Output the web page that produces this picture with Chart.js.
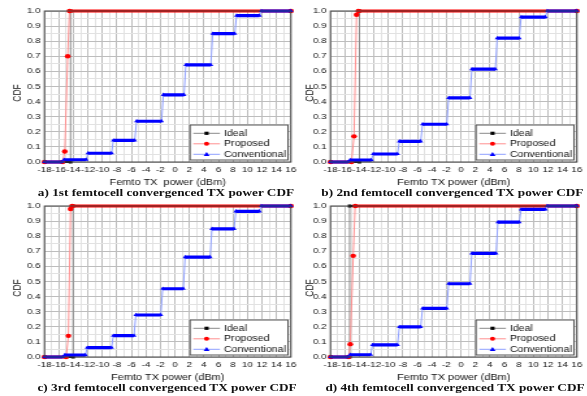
<!DOCTYPE html>
<html>
<head>
<meta charset="utf-8">
<script src="https://cdn.jsdelivr.net/npm/chart.js@4.4.1/dist/chart.umd.min.js"></script>
<style>
html, body { margin: 0; padding: 0; background: #fff; overflow: hidden; }
#page { position: absolute; left: 0; top: 0; width: 451.54px; height: 396px; transform: scaleX(1.3); transform-origin: 0 0; }
#page canvas { position: absolute; }
.cap { position: absolute; width: 220px; text-align: center; white-space: nowrap; font: bold 10.2px "Liberation Serif", serif; line-height: 12px; color: #111; }
</style>
</head>
<body>
<div id="page">
  <canvas id="p0" width="232" height="190" style="left:0px;top:0px"></canvas>
  <canvas id="p1" width="225" height="190" style="left:226px;top:0px"></canvas>
  <canvas id="p2" width="232" height="190" style="left:0px;top:195px"></canvas>
  <canvas id="p3" width="225" height="190" style="left:226px;top:195px"></canvas>
  <div class="cap" style="left:17.7px;top:187px">a) 1st femtocell convergenced TX power CDF</div>
  <div class="cap" style="left:238px;top:187px">b) 2nd femtocell convergenced TX power CDF</div>
  <div class="cap" style="left:18.5px;top:382px">c) 3rd femtocell convergenced TX power CDF</div>
  <div class="cap" style="left:240px;top:382px">d) 4th femtocell convergenced TX power CDF</div>
</div>
<script>
// series names and axis texts
const seriesNames = ['Ideal', 'Proposed', 'Conventional'];
const xTitles = ['Femto TX  power (dBm)', 'Femto TX power (dBm)', 'Femto TX power (dBm)', 'Femto TX power (dBm)'];
const yTitle = 'CDF';

// ideal: a single jump from 0 to 1
const idealX = [
  [-18, -14.4, -14.4, 16],
  [-18, -14.0, -14.0, 16],
  [-18, -14.05, -14.05, 16],
  [-18, -15.35, -15.35, 16]
];
const idealY = [0, 0, 1, 1];

// proposed
const proposedX = [
  [-18, -15.5, -15.2, -14.8, -14.55, 16],
  [-18, -15.1, -14.75, -14.4, -14.15, 16],
  [-18, -15.0, -14.7, -14.4, -14.2, 16],
  [-18, -15.5, -15.27, -14.86, -14.6, 16]
];
const proposedY = [
  [0, 0, 0.07, 0.70, 1, 1],
  [0, 0, 0.17, 0.975, 1, 1],
  [0, 0, 0.14, 0.98, 1, 1],
  [0, 0, 0.085, 0.67, 1, 1]
];

// conventional: staircase, each step has a start, an end and a level
const convStart = [
  [-18, -15.3, -12.0, -8.5, -5.3, -1.6, 1.5, 5.2, 8.5, 11.9],
  [-18, -15.3, -12.1, -8.5, -5.3, -1.7, 1.5, 5.0, 8.3, 11.9],
  [-18, -15.2, -12.1, -8.5, -5.4, -1.7, 1.4, 5.1, 8.4, 11.9],
  [-18, -15.3, -12.2, -8.5, -5.3, -1.7, 1.5, 5.1, 8.3, 11.9]
];
const convEnd = [
  [-15.55, -12.25, -8.75, -5.55, -1.85, 1.25, 4.95, 8.25, 11.65, 16],
  [-15.55, -12.35, -8.75, -5.55, -1.95, 1.25, 4.75, 8.05, 11.65, 16],
  [-15.45, -12.35, -8.75, -5.65, -1.95, 1.15, 4.85, 8.15, 11.65, 16],
  [-15.55, -12.45, -8.75, -5.55, -1.95, 1.25, 4.85, 8.05, 11.65, 16]
];
const convLevel = [
  [0, 0.015, 0.058, 0.143, 0.27, 0.445, 0.643, 0.85, 0.97, 1],
  [0, 0.013, 0.053, 0.137, 0.25, 0.425, 0.615, 0.82, 0.96, 1],
  [0, 0.013, 0.062, 0.141, 0.278, 0.452, 0.662, 0.849, 0.965, 1],
  [0, 0.015, 0.08, 0.199, 0.322, 0.485, 0.686, 0.893, 0.977, 1]
];

// layout of each panel (canvas local units)
const panels = [
  { id: 'p0', yAxisW: 34.2, padRight: 8.2, yTitleX: 14.1 },
  { id: 'p1', yAxisW: 28.2, padRight: 7.2, yTitleX: 12.2 },
  { id: 'p2', yAxisW: 34.2, padRight: 8.2, yTitleX: 14.1 },
  { id: 'p3', yAxisW: 28.2, padRight: 7.2, yTitleX: 12.2 }
];

const keyLooks = [
  { line: '#8a8a8a', mark: '#000', style: 'rect' },
  { line: '#ff8f8f', mark: '#ff0000', style: 'circle' },
  { line: '#8fa0ff', mark: '#0000ff', style: 'triangle' }
];

Chart.defaults.font.family = '"Liberation Sans", Arial, sans-serif';
Chart.defaults.color = '#111';

function pairs(xs, ys) {
  return xs.map((x, k) => ({ x: x, y: ys[k] }));
}

function stairs(i) {
  const pts = [];
  for (let k = 0; k < convLevel[i].length; k++) {
    pts.push({ x: convStart[i][k], y: convLevel[i][k] });
    pts.push({ x: convEnd[i][k], y: convLevel[i][k] });
  }
  return pts;
}

const flat = c => Math.abs(c.p0.parsed.y - c.p1.parsed.y) < 1e-9;

function keyMarker(ctx, style, x, y, color) {
  ctx.fillStyle = color;
  ctx.beginPath();
  if (style === 'rect') ctx.rect(x - 1.6, y - 1.6, 3.2, 3.2);
  else if (style === 'circle') ctx.arc(x, y, 2, 0, Math.PI * 2);
  else { ctx.moveTo(x, y - 2.4); ctx.lineTo(x + 2.3, y + 1.6); ctx.lineTo(x - 2.3, y + 1.6); ctx.closePath(); }
  ctx.fill();
}

const frameAndKey = {
  id: 'frameAndKey',
  afterDraw(chart, args, opts) {
    const ctx = chart.ctx, a = chart.chartArea;
    ctx.save();
    ctx.strokeStyle = '#444';
    ctx.lineWidth = 1;
    ctx.strokeRect(a.left, a.top, a.width, a.height);

    // y title
    ctx.save();
    ctx.translate(opts.yTitleX, (a.top + a.bottom) / 2 + 6.5);
    ctx.rotate(-Math.PI / 2);
    ctx.font = '8.5px "Liberation Sans", Arial, sans-serif';
    ctx.fillStyle = '#111';
    ctx.textAlign = 'center';
    ctx.textBaseline = 'middle';
    ctx.fillText(yTitle, 0, 0);
    ctx.restore();

    // key box
    const w = 75.3, h = 35;
    const x0 = a.right - 2.3 - w, y0 = a.bottom - 2 - h;
    ctx.fillStyle = '#fff';
    ctx.fillRect(x0, y0, w, h);
    ctx.strokeStyle = '#555';
    ctx.strokeRect(x0, y0, w, h);
    ctx.font = '8.2px "Liberation Sans", Arial, sans-serif';
    ctx.textBaseline = 'middle';
    ctx.textAlign = 'left';
    chart.data.datasets.forEach((ds, k) => {
      const y = y0 + 8.3 + k * 10.5;
      const look = keyLooks[k];
      ctx.strokeStyle = look.line;
      ctx.beginPath();
      ctx.moveTo(x0 + 2.5, y);
      ctx.lineTo(x0 + 23, y);
      ctx.stroke();
      keyMarker(ctx, look.style, x0 + 12.7, y, look.mark);
      ctx.fillStyle = '#111';
      ctx.fillText(ds.label, x0 + 26, y);
    });
    ctx.restore();
  }
};

panels.forEach((p, i) => {
  new Chart(document.getElementById(p.id), {
    type: 'line',
    data: {
      datasets: [
        {
          label: seriesNames[0],
          data: pairs(idealX[i], idealY),
          order: 3,
          borderColor: '#000',
          pointStyle: 'rect',
          pointRadius: 2,
          pointBackgroundColor: '#000',
          pointBorderWidth: 0,
          segment: {
            borderWidth: c => flat(c) ? 2 : 1,
            borderColor: c => flat(c) ? '#000' : '#8a8a8a'
          }
        },
        {
          label: seriesNames[1],
          data: pairs(proposedX[i], proposedY[i]),
          order: 2,
          borderColor: '#ff0000',
          pointStyle: 'circle',
          pointRadius: 2.2,
          pointBackgroundColor: '#ff0000',
          pointBorderWidth: 0,
          segment: {
            borderWidth: c => flat(c) ? 3 : 1,
            borderColor: c => flat(c) ? '#ff0000' : '#ff8f8f'
          }
        },
        {
          label: seriesNames[2],
          data: stairs(i),
          order: 1,
          borderColor: '#0000ff',
          pointStyle: 'triangle',
          pointRadius: 2.2,
          pointBackgroundColor: '#0000ff',
          pointBorderWidth: 0,
          segment: {
            borderWidth: c => flat(c) ? 3.2 : 1,
            borderColor: c => flat(c) ? '#0000ff' : '#8fa0ff'
          }
        }
      ]
    },
    options: {
      responsive: false,
      animation: false,
      clip: 4,
      layout: { padding: { left: 0, top: 11, right: p.padRight, bottom: 0 } },
      plugins: {
        legend: { display: false },
        tooltip: { enabled: false },
        frameAndKey: { yTitleX: p.yTitleX }
      },
      scales: {
        x: {
          type: 'linear',
          min: -18,
          max: 16,
          border: { display: false },
          grid: {
            drawTicks: false,
            color: c => (c.tick && Math.round(c.tick.value) % 2 === 0) ? '#bdbdbd' : '#e2e2e2'
          },
          ticks: {
            stepSize: 1,
            autoSkip: false,
            maxRotation: 0,
            minRotation: 0,
            padding: 3,
            font: { size: 7.6 },
            callback: v => (Math.round(v) % 2 === 0 ? String(v) : '')
          },
          title: {
            display: true,
            text: xTitles[i],
            font: { size: 8.4 },
            padding: { top: 0, bottom: 2 }
          },
          afterFit: s => { s.height = 28; }
        },
        y: {
          min: 0,
          max: 1,
          border: { display: false },
          grid: {
            drawTicks: false,
            color: c => (c.tick && Math.round(c.tick.value * 20) % 2 === 0) ? '#bdbdbd' : '#e2e2e2'
          },
          ticks: {
            stepSize: 0.05,
            autoSkip: false,
            padding: 3,
            font: { size: 7.6 },
            callback: v => (Math.round(v * 20) % 2 === 0 ? v.toFixed(1) : '')
          },
          afterFit: s => { s.width = p.yAxisW; }
        }
      }
    },
    plugins: [frameAndKey]
  });
});
</script>
</body>
</html>
